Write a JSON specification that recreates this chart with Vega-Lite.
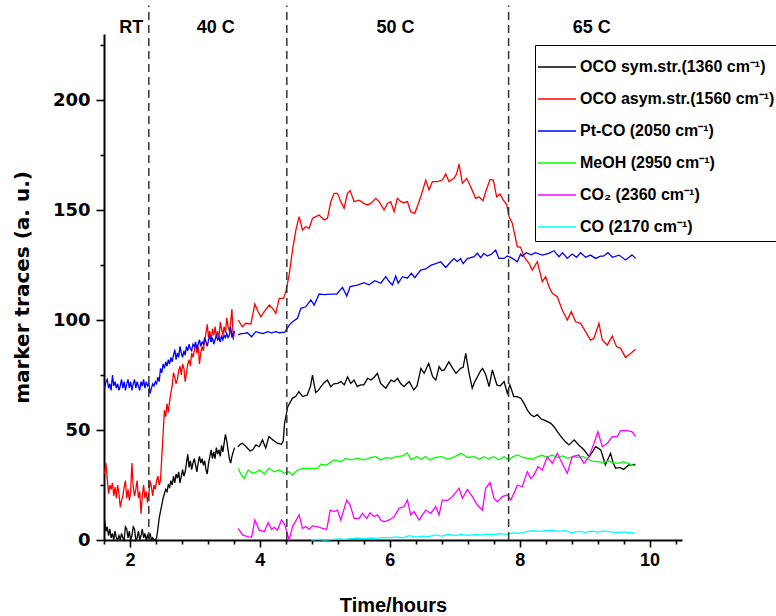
{
"$schema": "https://vega.github.io/schema/vega-lite/v6.json",
"width": 578, "height": 506,
"autosize": {"type": "none"},
"padding": {"left": 104, "top": 34, "right": 94, "bottom": 76},
"background": "white",
"config": {"view": {"stroke": null}, "axis": {"grid": false}},
"datasets": {
"bounds": [{"x": 2.29}, {"x": 4.415}, {"x": 7.83}],
"labels": [{"t": "RT", "x": 2.02}, {"t": "40 C", "x": 3.32}, {"t": "50 C", "x": 6.09}, {"t": "65 C", "x": 9.11}],
"traces": [
{"s":"a","g":1,"x":1.61,"y":9},{"s":"a","g":1,"x":1.63,"y":4},{"s":"a","g":1,"x":1.65,"y":6},{"s":"a","g":1,"x":1.67,"y":2},{"s":"a","g":1,"x":1.69,"y":5},{"s":"a","g":1,"x":1.71,"y":1},{"s":"a","g":1,"x":1.73,"y":3},{"s":"a","g":1,"x":1.75,"y":0},{"s":"a","g":1,"x":1.77,"y":4},{"s":"a","g":1,"x":1.79,"y":1},{"s":"a","g":1,"x":1.81,"y":0},{"s":"a","g":1,"x":1.83,"y":2},{"s":"a","g":1,"x":1.85,"y":0},{"s":"a","g":1,"x":1.87,"y":3},{"s":"a","g":1,"x":1.89,"y":1},{"s":"a","g":1,"x":1.91,"y":0},{"s":"a","g":1,"x":1.93,"y":6},{"s":"a","g":1,"x":1.95,"y":5},{"s":"a","g":1,"x":1.97,"y":1},{"s":"a","g":1,"x":1.99,"y":4},{"s":"a","g":1,"x":2.01,"y":0},{"s":"a","g":1,"x":2.03,"y":2},{"s":"a","g":1,"x":2.05,"y":6},{"s":"a","g":1,"x":2.07,"y":5},{"s":"a","g":1,"x":2.09,"y":0},{"s":"a","g":1,"x":2.11,"y":1},{"s":"a","g":1,"x":2.13,"y":4},{"s":"a","g":1,"x":2.15,"y":0},{"s":"a","g":1,"x":2.17,"y":2},{"s":"a","g":1,"x":2.19,"y":5},{"s":"a","g":1,"x":2.21,"y":1},{"s":"a","g":1,"x":2.23,"y":3},{"s":"a","g":1,"x":2.25,"y":0},{"s":"a","g":1,"x":2.27,"y":2},{"s":"a","g":1,"x":2.29,"y":0},{"s":"a","g":1,"x":2.31,"y":3},{"s":"a","g":1,"x":2.33,"y":0},{"s":"a","g":1,"x":2.35,"y":1},{"s":"a","g":1,"x":2.37,"y":0},{"s":"a","g":1,"x":2.39,"y":0},{"s":"a","g":1,"x":2.41,"y":1},{"s":"a","g":1,"x":2.43,"y":5},{"s":"a","g":1,"x":2.45,"y":10},{"s":"a","g":1,"x":2.47,"y":13},{"s":"a","g":1,"x":2.49,"y":16},{"s":"a","g":1,"x":2.51,"y":19},{"s":"a","g":1,"x":2.53,"y":21},{"s":"a","g":1,"x":2.55,"y":23},{"s":"a","g":1,"x":2.57,"y":22},{"s":"a","g":1,"x":2.59,"y":25},{"s":"a","g":1,"x":2.61,"y":24},{"s":"a","g":1,"x":2.63,"y":27},{"s":"a","g":1,"x":2.65,"y":25},{"s":"a","g":1,"x":2.67,"y":29},{"s":"a","g":1,"x":2.69,"y":26},{"s":"a","g":1,"x":2.71,"y":30},{"s":"a","g":1,"x":2.73,"y":28},{"s":"a","g":1,"x":2.75,"y":31},{"s":"a","g":1,"x":2.77,"y":26},{"s":"a","g":1,"x":2.79,"y":29},{"s":"a","g":1,"x":2.81,"y":32},{"s":"a","g":1,"x":2.83,"y":29},{"s":"a","g":1,"x":2.85,"y":31},{"s":"a","g":1,"x":2.87,"y":35},{"s":"a","g":1,"x":2.89,"y":39},{"s":"a","g":1,"x":2.91,"y":33},{"s":"a","g":1,"x":2.93,"y":36},{"s":"a","g":1,"x":2.95,"y":32},{"s":"a","g":1,"x":2.97,"y":35},{"s":"a","g":1,"x":2.99,"y":37},{"s":"a","g":1,"x":3.01,"y":34},{"s":"a","g":1,"x":3.03,"y":31},{"s":"a","g":1,"x":3.05,"y":35},{"s":"a","g":1,"x":3.07,"y":38},{"s":"a","g":1,"x":3.09,"y":35},{"s":"a","g":1,"x":3.11,"y":37},{"s":"a","g":1,"x":3.13,"y":34},{"s":"a","g":1,"x":3.15,"y":36},{"s":"a","g":1,"x":3.17,"y":32},{"s":"a","g":1,"x":3.19,"y":30},{"s":"a","g":1,"x":3.21,"y":35},{"s":"a","g":1,"x":3.23,"y":38},{"s":"a","g":1,"x":3.25,"y":41},{"s":"a","g":1,"x":3.27,"y":37},{"s":"a","g":1,"x":3.29,"y":40},{"s":"a","g":1,"x":3.31,"y":37},{"s":"a","g":1,"x":3.33,"y":42},{"s":"a","g":1,"x":3.35,"y":39},{"s":"a","g":1,"x":3.37,"y":41},{"s":"a","g":1,"x":3.39,"y":38},{"s":"a","g":1,"x":3.41,"y":43},{"s":"a","g":1,"x":3.43,"y":40},{"s":"a","g":1,"x":3.45,"y":44},{"s":"a","g":1,"x":3.47,"y":48},{"s":"a","g":1,"x":3.49,"y":45},{"s":"a","g":1,"x":3.51,"y":41},{"s":"a","g":1,"x":3.53,"y":37},{"s":"a","g":1,"x":3.55,"y":35},{"s":"a","g":1,"x":3.57,"y":38},{"s":"a","g":1,"x":3.59,"y":40},{"s":"a","g":1,"x":3.61,"y":42},
{"s":"a","g":2,"x":3.66,"y":42.4},{"s":"a","g":2,"x":3.7,"y":43.5},{"s":"a","g":2,"x":3.73,"y":44},{"s":"a","g":2,"x":3.77,"y":43},{"s":"a","g":2,"x":3.81,"y":41.7},{"s":"a","g":2,"x":3.85,"y":40.5},{"s":"a","g":2,"x":3.89,"y":41},{"s":"a","g":2,"x":3.94,"y":43.2},{"s":"a","g":2,"x":3.99,"y":42.4},{"s":"a","g":2,"x":4.04,"y":45.5},{"s":"a","g":2,"x":4.09,"y":41.8},{"s":"a","g":2,"x":4.14,"y":47},{"s":"a","g":2,"x":4.2,"y":45.5},{"s":"a","g":2,"x":4.27,"y":44},{"s":"a","g":2,"x":4.33,"y":43.5},{"s":"a","g":2,"x":4.36,"y":45},{"s":"a","g":2,"x":4.38,"y":53},{"s":"a","g":2,"x":4.43,"y":60.6},{"s":"a","g":2,"x":4.5,"y":64.4},{"s":"a","g":2,"x":4.55,"y":65.2},{"s":"a","g":2,"x":4.6,"y":67.4},{"s":"a","g":2,"x":4.66,"y":65.2},{"s":"a","g":2,"x":4.73,"y":65.9},{"s":"a","g":2,"x":4.78,"y":70},{"s":"a","g":2,"x":4.81,"y":75},{"s":"a","g":2,"x":4.86,"y":67},{"s":"a","g":2,"x":4.9,"y":68},{"s":"a","g":2,"x":4.94,"y":69.7},{"s":"a","g":2,"x":4.99,"y":71.5},{"s":"a","g":2,"x":5.04,"y":72.7},{"s":"a","g":2,"x":5.09,"y":69.7},{"s":"a","g":2,"x":5.14,"y":71},{"s":"a","g":2,"x":5.2,"y":71.2},{"s":"a","g":2,"x":5.25,"y":72},{"s":"a","g":2,"x":5.3,"y":70.5},{"s":"a","g":2,"x":5.35,"y":74.2},{"s":"a","g":2,"x":5.4,"y":71.2},{"s":"a","g":2,"x":5.45,"y":72.7},{"s":"a","g":2,"x":5.5,"y":69.7},{"s":"a","g":2,"x":5.55,"y":70.5},{"s":"a","g":2,"x":5.6,"y":70.5},{"s":"a","g":2,"x":5.66,"y":73.5},{"s":"a","g":2,"x":5.71,"y":72.7},{"s":"a","g":2,"x":5.76,"y":74},{"s":"a","g":2,"x":5.81,"y":75.8},{"s":"a","g":2,"x":5.86,"y":71.2},{"s":"a","g":2,"x":5.9,"y":70},{"s":"a","g":2,"x":5.94,"y":69},{"s":"a","g":2,"x":5.98,"y":71},{"s":"a","g":2,"x":6.02,"y":72.7},{"s":"a","g":2,"x":6.07,"y":72},{"s":"a","g":2,"x":6.12,"y":73.5},{"s":"a","g":2,"x":6.17,"y":71},{"s":"a","g":2,"x":6.22,"y":69.7},{"s":"a","g":2,"x":6.26,"y":71},{"s":"a","g":2,"x":6.3,"y":72},{"s":"a","g":2,"x":6.37,"y":68.2},{"s":"a","g":2,"x":6.42,"y":70},{"s":"a","g":2,"x":6.48,"y":78},{"s":"a","g":2,"x":6.53,"y":75.8},{"s":"a","g":2,"x":6.6,"y":80.3},{"s":"a","g":2,"x":6.66,"y":74.2},{"s":"a","g":2,"x":6.71,"y":72.7},{"s":"a","g":2,"x":6.76,"y":78.8},{"s":"a","g":2,"x":6.8,"y":77},{"s":"a","g":2,"x":6.84,"y":77.3},{"s":"a","g":2,"x":6.91,"y":81},{"s":"a","g":2,"x":6.97,"y":78},{"s":"a","g":2,"x":7.02,"y":75.8},{"s":"a","g":2,"x":7.06,"y":77},{"s":"a","g":2,"x":7.09,"y":78},{"s":"a","g":2,"x":7.13,"y":78.5},{"s":"a","g":2,"x":7.17,"y":84.8},{"s":"a","g":2,"x":7.22,"y":76},{"s":"a","g":2,"x":7.27,"y":69},{"s":"a","g":2,"x":7.31,"y":72},{"s":"a","g":2,"x":7.35,"y":74.2},{"s":"a","g":2,"x":7.4,"y":77},{"s":"a","g":2,"x":7.43,"y":78},{"s":"a","g":2,"x":7.48,"y":75},{"s":"a","g":2,"x":7.53,"y":69.7},{"s":"a","g":2,"x":7.58,"y":77.3},{"s":"a","g":2,"x":7.65,"y":70.5},{"s":"a","g":2,"x":7.7,"y":70},{"s":"a","g":2,"x":7.76,"y":72},{"s":"a","g":2,"x":7.81,"y":66.7},{"s":"a","g":2,"x":7.85,"y":70.5},{"s":"a","g":2,"x":7.91,"y":65.2},{"s":"a","g":2,"x":7.96,"y":65.2},{"s":"a","g":2,"x":8.02,"y":64.4},{"s":"a","g":2,"x":8.07,"y":62},{"s":"a","g":2,"x":8.12,"y":59},{"s":"a","g":2,"x":8.17,"y":57},{"s":"a","g":2,"x":8.22,"y":56},{"s":"a","g":2,"x":8.27,"y":57},{"s":"a","g":2,"x":8.33,"y":55},{"s":"a","g":2,"x":8.38,"y":54.5},{"s":"a","g":2,"x":8.43,"y":53.8},{"s":"a","g":2,"x":8.48,"y":53},{"s":"a","g":2,"x":8.53,"y":51.5},{"s":"a","g":2,"x":8.6,"y":48.5},{"s":"a","g":2,"x":8.66,"y":46.2},{"s":"a","g":2,"x":8.71,"y":44.5},{"s":"a","g":2,"x":8.76,"y":43.2},{"s":"a","g":2,"x":8.84,"y":45.5},{"s":"a","g":2,"x":8.91,"y":43.2},{"s":"a","g":2,"x":8.99,"y":41},{"s":"a","g":2,"x":9.07,"y":37.9},{"s":"a","g":2,"x":9.12,"y":40},{"s":"a","g":2,"x":9.17,"y":42.4},{"s":"a","g":2,"x":9.25,"y":40.9},{"s":"a","g":2,"x":9.32,"y":34.1},{"s":"a","g":2,"x":9.4,"y":39.4},{"s":"a","g":2,"x":9.44,"y":35},{"s":"a","g":2,"x":9.48,"y":32.6},{"s":"a","g":2,"x":9.54,"y":33},{"s":"a","g":2,"x":9.6,"y":32.1},{"s":"a","g":2,"x":9.68,"y":34.1},{"s":"a","g":2,"x":9.78,"y":34.4},
{"s":"b","g":1,"x":1.61,"y":30},{"s":"b","g":1,"x":1.63,"y":35},{"s":"b","g":1,"x":1.65,"y":28},{"s":"b","g":1,"x":1.67,"y":21},{"s":"b","g":1,"x":1.69,"y":25},{"s":"b","g":1,"x":1.71,"y":23},{"s":"b","g":1,"x":1.73,"y":26},{"s":"b","g":1,"x":1.75,"y":20},{"s":"b","g":1,"x":1.77,"y":24},{"s":"b","g":1,"x":1.79,"y":19},{"s":"b","g":1,"x":1.81,"y":25},{"s":"b","g":1,"x":1.83,"y":21},{"s":"b","g":1,"x":1.85,"y":15},{"s":"b","g":1,"x":1.87,"y":18},{"s":"b","g":1,"x":1.89,"y":20},{"s":"b","g":1,"x":1.91,"y":24},{"s":"b","g":1,"x":1.93,"y":27},{"s":"b","g":1,"x":1.95,"y":19},{"s":"b","g":1,"x":1.97,"y":23},{"s":"b","g":1,"x":1.99,"y":18},{"s":"b","g":1,"x":2.01,"y":22},{"s":"b","g":1,"x":2.03,"y":35},{"s":"b","g":1,"x":2.05,"y":24},{"s":"b","g":1,"x":2.07,"y":20},{"s":"b","g":1,"x":2.09,"y":23},{"s":"b","g":1,"x":2.11,"y":27},{"s":"b","g":1,"x":2.13,"y":19},{"s":"b","g":1,"x":2.15,"y":22},{"s":"b","g":1,"x":2.17,"y":12},{"s":"b","g":1,"x":2.19,"y":20},{"s":"b","g":1,"x":2.21,"y":25},{"s":"b","g":1,"x":2.23,"y":19},{"s":"b","g":1,"x":2.25,"y":22},{"s":"b","g":1,"x":2.27,"y":17},{"s":"b","g":1,"x":2.29,"y":21},{"s":"b","g":1,"x":2.31,"y":27},{"s":"b","g":1,"x":2.33,"y":24},{"s":"b","g":1,"x":2.35,"y":20},{"s":"b","g":1,"x":2.37,"y":25},{"s":"b","g":1,"x":2.39,"y":23},{"s":"b","g":1,"x":2.41,"y":27},{"s":"b","g":1,"x":2.43,"y":29},{"s":"b","g":1,"x":2.45,"y":25},{"s":"b","g":1,"x":2.47,"y":27},{"s":"b","g":1,"x":2.49,"y":38},{"s":"b","g":1,"x":2.51,"y":48},{"s":"b","g":1,"x":2.53,"y":59},{"s":"b","g":1,"x":2.55,"y":56},{"s":"b","g":1,"x":2.57,"y":62},{"s":"b","g":1,"x":2.59,"y":58},{"s":"b","g":1,"x":2.61,"y":63},{"s":"b","g":1,"x":2.63,"y":67},{"s":"b","g":1,"x":2.65,"y":70},{"s":"b","g":1,"x":2.67,"y":76},{"s":"b","g":1,"x":2.69,"y":74},{"s":"b","g":1,"x":2.71,"y":71},{"s":"b","g":1,"x":2.73,"y":73},{"s":"b","g":1,"x":2.75,"y":77},{"s":"b","g":1,"x":2.77,"y":79},{"s":"b","g":1,"x":2.79,"y":75},{"s":"b","g":1,"x":2.81,"y":80},{"s":"b","g":1,"x":2.83,"y":78},{"s":"b","g":1,"x":2.85,"y":72},{"s":"b","g":1,"x":2.87,"y":76},{"s":"b","g":1,"x":2.89,"y":80},{"s":"b","g":1,"x":2.91,"y":82},{"s":"b","g":1,"x":2.93,"y":79},{"s":"b","g":1,"x":2.95,"y":85},{"s":"b","g":1,"x":2.97,"y":83},{"s":"b","g":1,"x":2.99,"y":86},{"s":"b","g":1,"x":3.01,"y":89},{"s":"b","g":1,"x":3.03,"y":85},{"s":"b","g":1,"x":3.05,"y":88},{"s":"b","g":1,"x":3.07,"y":80},{"s":"b","g":1,"x":3.09,"y":85},{"s":"b","g":1,"x":3.11,"y":88},{"s":"b","g":1,"x":3.13,"y":86},{"s":"b","g":1,"x":3.15,"y":91},{"s":"b","g":1,"x":3.17,"y":94},{"s":"b","g":1,"x":3.19,"y":98},{"s":"b","g":1,"x":3.21,"y":92},{"s":"b","g":1,"x":3.23,"y":95},{"s":"b","g":1,"x":3.25,"y":90},{"s":"b","g":1,"x":3.27,"y":96},{"s":"b","g":1,"x":3.29,"y":93},{"s":"b","g":1,"x":3.31,"y":97},{"s":"b","g":1,"x":3.33,"y":92},{"s":"b","g":1,"x":3.35,"y":95},{"s":"b","g":1,"x":3.37,"y":91},{"s":"b","g":1,"x":3.39,"y":99},{"s":"b","g":1,"x":3.41,"y":96},{"s":"b","g":1,"x":3.43,"y":93},{"s":"b","g":1,"x":3.45,"y":97},{"s":"b","g":1,"x":3.47,"y":94},{"s":"b","g":1,"x":3.49,"y":101},{"s":"b","g":1,"x":3.51,"y":97},{"s":"b","g":1,"x":3.53,"y":95},{"s":"b","g":1,"x":3.55,"y":99},{"s":"b","g":1,"x":3.57,"y":105},{"s":"b","g":1,"x":3.59,"y":91},{"s":"b","g":1,"x":3.61,"y":95},
{"s":"b","g":2,"x":3.667,"y":100},{"s":"b","g":2,"x":3.73,"y":96.9},{"s":"b","g":2,"x":3.785,"y":98.5},{"s":"b","g":2,"x":3.862,"y":98.2},{"s":"b","g":2,"x":3.923,"y":107.3},{"s":"b","g":2,"x":3.97,"y":104},{"s":"b","g":2,"x":4.015,"y":101.5},{"s":"b","g":2,"x":4.067,"y":103.8},{"s":"b","g":2,"x":4.144,"y":106.8},{"s":"b","g":2,"x":4.195,"y":105.3},{"s":"b","g":2,"x":4.246,"y":103},{"s":"b","g":2,"x":4.298,"y":109.8},{"s":"b","g":2,"x":4.364,"y":109.8},{"s":"b","g":2,"x":4.4,"y":112.9},{"s":"b","g":2,"x":4.451,"y":120.5},{"s":"b","g":2,"x":4.503,"y":131.8},{"s":"b","g":2,"x":4.554,"y":140.9},{"s":"b","g":2,"x":4.605,"y":147},{"s":"b","g":2,"x":4.656,"y":140.9},{"s":"b","g":2,"x":4.708,"y":142.4},{"s":"b","g":2,"x":4.759,"y":141.7},{"s":"b","g":2,"x":4.81,"y":146.2},{"s":"b","g":2,"x":4.86,"y":147},{"s":"b","g":2,"x":4.913,"y":147.7},{"s":"b","g":2,"x":4.99,"y":145.5},{"s":"b","g":2,"x":5.041,"y":146.2},{"s":"b","g":2,"x":5.092,"y":153.8},{"s":"b","g":2,"x":5.144,"y":157.6},{"s":"b","g":2,"x":5.195,"y":157.6},{"s":"b","g":2,"x":5.246,"y":153.8},{"s":"b","g":2,"x":5.297,"y":150.8},{"s":"b","g":2,"x":5.349,"y":157.6},{"s":"b","g":2,"x":5.39,"y":158.8},{"s":"b","g":2,"x":5.451,"y":153.8},{"s":"b","g":2,"x":5.528,"y":154.5},{"s":"b","g":2,"x":5.6,"y":153},{"s":"b","g":2,"x":5.656,"y":152.3},{"s":"b","g":2,"x":5.71,"y":153},{"s":"b","g":2,"x":5.785,"y":155.3},{"s":"b","g":2,"x":5.836,"y":153.8},{"s":"b","g":2,"x":5.913,"y":150},{"s":"b","g":2,"x":5.964,"y":153},{"s":"b","g":2,"x":6.015,"y":153.8},{"s":"b","g":2,"x":6.067,"y":149.2},{"s":"b","g":2,"x":6.118,"y":155.3},{"s":"b","g":2,"x":6.17,"y":153.8},{"s":"b","g":2,"x":6.221,"y":153.3},{"s":"b","g":2,"x":6.272,"y":153.8},{"s":"b","g":2,"x":6.323,"y":149.2},{"s":"b","g":2,"x":6.385,"y":148.5},{"s":"b","g":2,"x":6.43,"y":152},{"s":"b","g":2,"x":6.477,"y":156},{"s":"b","g":2,"x":6.554,"y":163.6},{"s":"b","g":2,"x":6.605,"y":159.1},{"s":"b","g":2,"x":6.656,"y":162.9},{"s":"b","g":2,"x":6.733,"y":162.9},{"s":"b","g":2,"x":6.81,"y":163.6},{"s":"b","g":2,"x":6.862,"y":166.4},{"s":"b","g":2,"x":6.913,"y":162.9},{"s":"b","g":2,"x":6.99,"y":164.4},{"s":"b","g":2,"x":7.03,"y":166.4},{"s":"b","g":2,"x":7.067,"y":170.9},{"s":"b","g":2,"x":7.118,"y":162.1},{"s":"b","g":2,"x":7.185,"y":164.4},{"s":"b","g":2,"x":7.246,"y":160.6},{"s":"b","g":2,"x":7.323,"y":155.3},{"s":"b","g":2,"x":7.374,"y":156},{"s":"b","g":2,"x":7.436,"y":154.2},{"s":"b","g":2,"x":7.477,"y":158.3},{"s":"b","g":2,"x":7.544,"y":163.9},{"s":"b","g":2,"x":7.595,"y":163.6},{"s":"b","g":2,"x":7.646,"y":156},{"s":"b","g":2,"x":7.697,"y":157.3},{"s":"b","g":2,"x":7.749,"y":154.5},{"s":"b","g":2,"x":7.8,"y":152.5},{"s":"b","g":2,"x":7.836,"y":147},{"s":"b","g":2,"x":7.887,"y":144},{"s":"b","g":2,"x":7.93,"y":138},{"s":"b","g":2,"x":7.964,"y":133.3},{"s":"b","g":2,"x":8.015,"y":133},{"s":"b","g":2,"x":8.067,"y":128.8},{"s":"b","g":2,"x":8.144,"y":125.8},{"s":"b","g":2,"x":8.195,"y":122.7},{"s":"b","g":2,"x":8.272,"y":126.5},{"s":"b","g":2,"x":8.349,"y":117.4},{"s":"b","g":2,"x":8.4,"y":119.7},{"s":"b","g":2,"x":8.451,"y":115.2},{"s":"b","g":2,"x":8.503,"y":112.1},{"s":"b","g":2,"x":8.58,"y":110.6},{"s":"b","g":2,"x":8.656,"y":104.5},{"s":"b","g":2,"x":8.733,"y":100},{"s":"b","g":2,"x":8.795,"y":103.8},{"s":"b","g":2,"x":8.862,"y":99.2},{"s":"b","g":2,"x":8.939,"y":98.5},{"s":"b","g":2,"x":9.015,"y":94.7},{"s":"b","g":2,"x":9.092,"y":90.9},{"s":"b","g":2,"x":9.144,"y":91.7},{"s":"b","g":2,"x":9.221,"y":98.5},{"s":"b","g":2,"x":9.272,"y":90.9},{"s":"b","g":2,"x":9.349,"y":88.6},{"s":"b","g":2,"x":9.426,"y":92.7},{"s":"b","g":2,"x":9.492,"y":87.9},{"s":"b","g":2,"x":9.554,"y":87.1},{"s":"b","g":2,"x":9.631,"y":83},{"s":"b","g":2,"x":9.708,"y":84.8},{"s":"b","g":2,"x":9.785,"y":86.7},
{"s":"c","g":1,"x":1.61,"y":69},{"s":"c","g":1,"x":1.63,"y":72},{"s":"c","g":1,"x":1.65,"y":73},{"s":"c","g":1,"x":1.67,"y":69},{"s":"c","g":1,"x":1.69,"y":71},{"s":"c","g":1,"x":1.71,"y":68},{"s":"c","g":1,"x":1.73,"y":75},{"s":"c","g":1,"x":1.75,"y":70},{"s":"c","g":1,"x":1.77,"y":72},{"s":"c","g":1,"x":1.79,"y":69},{"s":"c","g":1,"x":1.81,"y":71},{"s":"c","g":1,"x":1.83,"y":68},{"s":"c","g":1,"x":1.85,"y":70},{"s":"c","g":1,"x":1.87,"y":73},{"s":"c","g":1,"x":1.89,"y":69},{"s":"c","g":1,"x":1.91,"y":72},{"s":"c","g":1,"x":1.93,"y":68},{"s":"c","g":1,"x":1.95,"y":71},{"s":"c","g":1,"x":1.97,"y":73},{"s":"c","g":1,"x":1.99,"y":69},{"s":"c","g":1,"x":2.01,"y":72},{"s":"c","g":1,"x":2.03,"y":68},{"s":"c","g":1,"x":2.05,"y":71},{"s":"c","g":1,"x":2.07,"y":73},{"s":"c","g":1,"x":2.09,"y":69},{"s":"c","g":1,"x":2.11,"y":72},{"s":"c","g":1,"x":2.13,"y":70},{"s":"c","g":1,"x":2.15,"y":68},{"s":"c","g":1,"x":2.17,"y":72},{"s":"c","g":1,"x":2.19,"y":70},{"s":"c","g":1,"x":2.21,"y":73},{"s":"c","g":1,"x":2.23,"y":69},{"s":"c","g":1,"x":2.25,"y":72},{"s":"c","g":1,"x":2.27,"y":70},{"s":"c","g":1,"x":2.29,"y":71},{"s":"c","g":1,"x":2.31,"y":66.5},{"s":"c","g":1,"x":2.33,"y":69},{"s":"c","g":1,"x":2.35,"y":71},{"s":"c","g":1,"x":2.37,"y":70},{"s":"c","g":1,"x":2.39,"y":72},{"s":"c","g":1,"x":2.41,"y":71},{"s":"c","g":1,"x":2.43,"y":74},{"s":"c","g":1,"x":2.45,"y":72},{"s":"c","g":1,"x":2.47,"y":78},{"s":"c","g":1,"x":2.49,"y":76},{"s":"c","g":1,"x":2.51,"y":80},{"s":"c","g":1,"x":2.53,"y":78},{"s":"c","g":1,"x":2.55,"y":81},{"s":"c","g":1,"x":2.57,"y":79},{"s":"c","g":1,"x":2.59,"y":82},{"s":"c","g":1,"x":2.61,"y":80},{"s":"c","g":1,"x":2.63,"y":83},{"s":"c","g":1,"x":2.65,"y":81},{"s":"c","g":1,"x":2.67,"y":84},{"s":"c","g":1,"x":2.69,"y":86.5},{"s":"c","g":1,"x":2.71,"y":82},{"s":"c","g":1,"x":2.73,"y":85},{"s":"c","g":1,"x":2.75,"y":83},{"s":"c","g":1,"x":2.77,"y":88},{"s":"c","g":1,"x":2.79,"y":85},{"s":"c","g":1,"x":2.81,"y":83},{"s":"c","g":1,"x":2.83,"y":86},{"s":"c","g":1,"x":2.85,"y":84},{"s":"c","g":1,"x":2.87,"y":88},{"s":"c","g":1,"x":2.89,"y":86},{"s":"c","g":1,"x":2.91,"y":89},{"s":"c","g":1,"x":2.93,"y":87},{"s":"c","g":1,"x":2.95,"y":86},{"s":"c","g":1,"x":2.97,"y":89},{"s":"c","g":1,"x":2.99,"y":88},{"s":"c","g":1,"x":3.01,"y":90},{"s":"c","g":1,"x":3.03,"y":87},{"s":"c","g":1,"x":3.05,"y":89},{"s":"c","g":1,"x":3.07,"y":91},{"s":"c","g":1,"x":3.09,"y":88},{"s":"c","g":1,"x":3.11,"y":90},{"s":"c","g":1,"x":3.13,"y":89},{"s":"c","g":1,"x":3.15,"y":92},{"s":"c","g":1,"x":3.17,"y":90},{"s":"c","g":1,"x":3.19,"y":88},{"s":"c","g":1,"x":3.21,"y":91},{"s":"c","g":1,"x":3.23,"y":93},{"s":"c","g":1,"x":3.25,"y":90},{"s":"c","g":1,"x":3.27,"y":92},{"s":"c","g":1,"x":3.29,"y":89},{"s":"c","g":1,"x":3.31,"y":91},{"s":"c","g":1,"x":3.33,"y":93},{"s":"c","g":1,"x":3.35,"y":91},{"s":"c","g":1,"x":3.37,"y":92},{"s":"c","g":1,"x":3.39,"y":90},{"s":"c","g":1,"x":3.41,"y":93},{"s":"c","g":1,"x":3.43,"y":91},{"s":"c","g":1,"x":3.45,"y":93},{"s":"c","g":1,"x":3.47,"y":92},{"s":"c","g":1,"x":3.49,"y":94},{"s":"c","g":1,"x":3.51,"y":92},{"s":"c","g":1,"x":3.53,"y":93},{"s":"c","g":1,"x":3.55,"y":97},{"s":"c","g":1,"x":3.57,"y":92},{"s":"c","g":1,"x":3.59,"y":94},{"s":"c","g":1,"x":3.61,"y":95},
{"s":"c","g":2,"x":3.667,"y":93.2},{"s":"c","g":2,"x":3.71,"y":93.8},{"s":"c","g":2,"x":3.759,"y":93.9},{"s":"c","g":2,"x":3.81,"y":94.2},{"s":"c","g":2,"x":3.872,"y":92.4},{"s":"c","g":2,"x":3.938,"y":94.7},{"s":"c","g":2,"x":4.0,"y":94.2},{"s":"c","g":2,"x":4.05,"y":93.8},{"s":"c","g":2,"x":4.12,"y":94.7},{"s":"c","g":2,"x":4.18,"y":94.2},{"s":"c","g":2,"x":4.25,"y":94.7},{"s":"c","g":2,"x":4.3,"y":94.2},{"s":"c","g":2,"x":4.385,"y":94.5},{"s":"c","g":2,"x":4.451,"y":97.7},{"s":"c","g":2,"x":4.503,"y":99.2},{"s":"c","g":2,"x":4.579,"y":100.8},{"s":"c","g":2,"x":4.631,"y":105.3},{"s":"c","g":2,"x":4.708,"y":106},{"s":"c","g":2,"x":4.785,"y":109.1},{"s":"c","g":2,"x":4.836,"y":106.8},{"s":"c","g":2,"x":4.913,"y":111.8},{"s":"c","g":2,"x":4.99,"y":111.5},{"s":"c","g":2,"x":5.09,"y":111.8},{"s":"c","g":2,"x":5.185,"y":111.8},{"s":"c","g":2,"x":5.272,"y":114.8},{"s":"c","g":2,"x":5.338,"y":110.9},{"s":"c","g":2,"x":5.39,"y":115.2},{"s":"c","g":2,"x":5.503,"y":115.9},{"s":"c","g":2,"x":5.605,"y":117},{"s":"c","g":2,"x":5.68,"y":116},{"s":"c","g":2,"x":5.77,"y":117.9},{"s":"c","g":2,"x":5.862,"y":116.7},{"s":"c","g":2,"x":5.938,"y":119.7},{"s":"c","g":2,"x":5.99,"y":117.5},{"s":"c","g":2,"x":6.041,"y":115.9},{"s":"c","g":2,"x":6.092,"y":120},{"s":"c","g":2,"x":6.13,"y":116.7},{"s":"c","g":2,"x":6.195,"y":119.7},{"s":"c","g":2,"x":6.27,"y":119},{"s":"c","g":2,"x":6.333,"y":121.2},{"s":"c","g":2,"x":6.385,"y":119.2},{"s":"c","g":2,"x":6.477,"y":122.7},{"s":"c","g":2,"x":6.554,"y":123.2},{"s":"c","g":2,"x":6.631,"y":124.8},{"s":"c","g":2,"x":6.708,"y":125.6},{"s":"c","g":2,"x":6.785,"y":126.5},{"s":"c","g":2,"x":6.862,"y":123.9},{"s":"c","g":2,"x":6.94,"y":126.5},{"s":"c","g":2,"x":6.99,"y":127.9},{"s":"c","g":2,"x":7.04,"y":126.5},{"s":"c","g":2,"x":7.09,"y":127.9},{"s":"c","g":2,"x":7.13,"y":125.6},{"s":"c","g":2,"x":7.195,"y":127.9},{"s":"c","g":2,"x":7.297,"y":128.8},{"s":"c","g":2,"x":7.35,"y":130.3},{"s":"c","g":2,"x":7.4,"y":128.3},{"s":"c","g":2,"x":7.45,"y":130.3},{"s":"c","g":2,"x":7.5,"y":129.1},{"s":"c","g":2,"x":7.56,"y":129.8},{"s":"c","g":2,"x":7.631,"y":131.8},{"s":"c","g":2,"x":7.68,"y":128},{"s":"c","g":2,"x":7.76,"y":128},{"s":"c","g":2,"x":7.81,"y":129.1},{"s":"c","g":2,"x":7.89,"y":128},{"s":"c","g":2,"x":7.964,"y":126.5},{"s":"c","g":2,"x":8.015,"y":130},{"s":"c","g":2,"x":8.04,"y":129},{"s":"c","g":2,"x":8.1,"y":130.6},{"s":"c","g":2,"x":8.18,"y":129.6},{"s":"c","g":2,"x":8.24,"y":130.6},{"s":"c","g":2,"x":8.349,"y":129.5},{"s":"c","g":2,"x":8.45,"y":130.3},{"s":"c","g":2,"x":8.528,"y":131.5},{"s":"c","g":2,"x":8.606,"y":128.8},{"s":"c","g":2,"x":8.66,"y":130.6},{"s":"c","g":2,"x":8.733,"y":128},{"s":"c","g":2,"x":8.81,"y":130},{"s":"c","g":2,"x":8.876,"y":128.5},{"s":"c","g":2,"x":8.94,"y":130.6},{"s":"c","g":2,"x":9.015,"y":128.5},{"s":"c","g":2,"x":9.09,"y":129.5},{"s":"c","g":2,"x":9.17,"y":128},{"s":"c","g":2,"x":9.247,"y":129},{"s":"c","g":2,"x":9.29,"y":129},{"s":"c","g":2,"x":9.36,"y":130.6},{"s":"c","g":2,"x":9.43,"y":128.5},{"s":"c","g":2,"x":9.53,"y":129.5},{"s":"c","g":2,"x":9.631,"y":127.3},{"s":"c","g":2,"x":9.73,"y":129.6},{"s":"c","g":2,"x":9.785,"y":128},
{"s":"d","g":2,"x":3.667,"y":32.6},{"s":"d","g":2,"x":3.71,"y":29.8},{"s":"d","g":2,"x":3.759,"y":28},{"s":"d","g":2,"x":3.82,"y":31.8},{"s":"d","g":2,"x":3.89,"y":30.3},{"s":"d","g":2,"x":3.95,"y":31},{"s":"d","g":2,"x":4.0,"y":31.8},{"s":"d","g":2,"x":4.07,"y":30},{"s":"d","g":2,"x":4.14,"y":32.6},{"s":"d","g":2,"x":4.22,"y":31},{"s":"d","g":2,"x":4.3,"y":31.8},{"s":"d","g":2,"x":4.374,"y":30.3},{"s":"d","g":2,"x":4.45,"y":31},{"s":"d","g":2,"x":4.5,"y":29.5},{"s":"d","g":2,"x":4.58,"y":31.8},{"s":"d","g":2,"x":4.66,"y":32.6},{"s":"d","g":2,"x":4.78,"y":32.6},{"s":"d","g":2,"x":4.89,"y":32.6},{"s":"d","g":2,"x":4.94,"y":34.5},{"s":"d","g":2,"x":5.02,"y":34},{"s":"d","g":2,"x":5.144,"y":36.4},{"s":"d","g":2,"x":5.25,"y":35.6},{"s":"d","g":2,"x":5.32,"y":37.1},{"s":"d","g":2,"x":5.4,"y":36.4},{"s":"d","g":2,"x":5.5,"y":37.1},{"s":"d","g":2,"x":5.61,"y":36.4},{"s":"d","g":2,"x":5.71,"y":37.5},{"s":"d","g":2,"x":5.785,"y":37.9},{"s":"d","g":2,"x":5.86,"y":36.4},{"s":"d","g":2,"x":5.95,"y":37.5},{"s":"d","g":2,"x":6.02,"y":37.1},{"s":"d","g":2,"x":6.1,"y":37.9},{"s":"d","g":2,"x":6.2,"y":38.2},{"s":"d","g":2,"x":6.27,"y":39.6},{"s":"d","g":2,"x":6.33,"y":36.5},{"s":"d","g":2,"x":6.42,"y":37.9},{"s":"d","g":2,"x":6.48,"y":36.7},{"s":"d","g":2,"x":6.55,"y":37.9},{"s":"d","g":2,"x":6.62,"y":36.4},{"s":"d","g":2,"x":6.7,"y":37.5},{"s":"d","g":2,"x":6.8,"y":37.9},{"s":"d","g":2,"x":6.9,"y":36.7},{"s":"d","g":2,"x":7.0,"y":37.9},{"s":"d","g":2,"x":7.1,"y":39.4},{"s":"d","g":2,"x":7.2,"y":37.5},{"s":"d","g":2,"x":7.3,"y":37.9},{"s":"d","g":2,"x":7.38,"y":36.7},{"s":"d","g":2,"x":7.45,"y":37.9},{"s":"d","g":2,"x":7.52,"y":36.9},{"s":"d","g":2,"x":7.6,"y":37.9},{"s":"d","g":2,"x":7.68,"y":36.5},{"s":"d","g":2,"x":7.76,"y":37.9},{"s":"d","g":2,"x":7.83,"y":36.4},{"s":"d","g":2,"x":7.9,"y":37.9},{"s":"d","g":2,"x":7.97,"y":38.7},{"s":"d","g":2,"x":8.05,"y":37.5},{"s":"d","g":2,"x":8.12,"y":37.1},{"s":"d","g":2,"x":8.2,"y":36.7},{"s":"d","g":2,"x":8.28,"y":37.9},{"s":"d","g":2,"x":8.35,"y":38.5},{"s":"d","g":2,"x":8.42,"y":37.5},{"s":"d","g":2,"x":8.5,"y":38.7},{"s":"d","g":2,"x":8.58,"y":37.5},{"s":"d","g":2,"x":8.66,"y":38.2},{"s":"d","g":2,"x":8.74,"y":37.1},{"s":"d","g":2,"x":8.82,"y":37.9},{"s":"d","g":2,"x":8.9,"y":37.5},{"s":"d","g":2,"x":8.98,"y":37.9},{"s":"d","g":2,"x":9.05,"y":36.7},{"s":"d","g":2,"x":9.12,"y":35.9},{"s":"d","g":2,"x":9.2,"y":35.6},{"s":"d","g":2,"x":9.28,"y":35.2},{"s":"d","g":2,"x":9.36,"y":35.9},{"s":"d","g":2,"x":9.44,"y":35.2},{"s":"d","g":2,"x":9.52,"y":34.8},{"s":"d","g":2,"x":9.6,"y":35.6},{"s":"d","g":2,"x":9.7,"y":34.5},{"s":"d","g":2,"x":9.785,"y":33.6},
{"s":"e","g":2,"x":3.667,"y":5.3},{"s":"e","g":2,"x":3.733,"y":2.3},{"s":"e","g":2,"x":3.81,"y":1.5},{"s":"e","g":2,"x":3.872,"y":1.2},{"s":"e","g":2,"x":3.923,"y":9.1},{"s":"e","g":2,"x":3.99,"y":4.5},{"s":"e","g":2,"x":4.067,"y":3.8},{"s":"e","g":2,"x":4.128,"y":7.9},{"s":"e","g":2,"x":4.18,"y":4.8},{"s":"e","g":2,"x":4.22,"y":5.8},{"s":"e","g":2,"x":4.272,"y":4.5},{"s":"e","g":2,"x":4.333,"y":9.1},{"s":"e","g":2,"x":4.385,"y":6.8},{"s":"e","g":2,"x":4.451,"y":0},{"s":"e","g":2,"x":4.503,"y":6.1},{"s":"e","g":2,"x":4.605,"y":11.4},{"s":"e","g":2,"x":4.656,"y":5.3},{"s":"e","g":2,"x":4.708,"y":6.1},{"s":"e","g":2,"x":4.759,"y":4.8},{"s":"e","g":2,"x":4.81,"y":6.4},{"s":"e","g":2,"x":4.887,"y":6.1},{"s":"e","g":2,"x":4.964,"y":5.3},{"s":"e","g":2,"x":5.03,"y":4.8},{"s":"e","g":2,"x":5.082,"y":13.6},{"s":"e","g":2,"x":5.144,"y":12.9},{"s":"e","g":2,"x":5.195,"y":13.6},{"s":"e","g":2,"x":5.246,"y":9.1},{"s":"e","g":2,"x":5.338,"y":18.2},{"s":"e","g":2,"x":5.39,"y":15.9},{"s":"e","g":2,"x":5.451,"y":9.8},{"s":"e","g":2,"x":5.528,"y":9.8},{"s":"e","g":2,"x":5.58,"y":12.1},{"s":"e","g":2,"x":5.646,"y":9.8},{"s":"e","g":2,"x":5.697,"y":12.4},{"s":"e","g":2,"x":5.759,"y":10.6},{"s":"e","g":2,"x":5.81,"y":11.4},{"s":"e","g":2,"x":5.862,"y":9.1},{"s":"e","g":2,"x":5.913,"y":8.3},{"s":"e","g":2,"x":5.99,"y":9.1},{"s":"e","g":2,"x":6.067,"y":10.6},{"s":"e","g":2,"x":6.144,"y":14.4},{"s":"e","g":2,"x":6.221,"y":15.2},{"s":"e","g":2,"x":6.272,"y":18.2},{"s":"e","g":2,"x":6.323,"y":11.4},{"s":"e","g":2,"x":6.374,"y":12.9},{"s":"e","g":2,"x":6.452,"y":9.1},{"s":"e","g":2,"x":6.554,"y":13.6},{"s":"e","g":2,"x":6.631,"y":12.1},{"s":"e","g":2,"x":6.708,"y":15.2},{"s":"e","g":2,"x":6.759,"y":11.4},{"s":"e","g":2,"x":6.81,"y":18.2},{"s":"e","g":2,"x":6.887,"y":17.9},{"s":"e","g":2,"x":6.964,"y":19.7},{"s":"e","g":2,"x":7.067,"y":23.5},{"s":"e","g":2,"x":7.118,"y":18.9},{"s":"e","g":2,"x":7.195,"y":23},{"s":"e","g":2,"x":7.272,"y":19.7},{"s":"e","g":2,"x":7.349,"y":15.9},{"s":"e","g":2,"x":7.426,"y":13.6},{"s":"e","g":2,"x":7.477,"y":23.5},{"s":"e","g":2,"x":7.544,"y":26.1},{"s":"e","g":2,"x":7.605,"y":18.9},{"s":"e","g":2,"x":7.657,"y":17.4},{"s":"e","g":2,"x":7.733,"y":19.7},{"s":"e","g":2,"x":7.81,"y":20.5},{"s":"e","g":2,"x":7.862,"y":18.2},{"s":"e","g":2,"x":7.913,"y":21.2},{"s":"e","g":2,"x":7.964,"y":25},{"s":"e","g":2,"x":8.04,"y":24.2},{"s":"e","g":2,"x":8.118,"y":31.1},{"s":"e","g":2,"x":8.17,"y":28},{"s":"e","g":2,"x":8.221,"y":29.5},{"s":"e","g":2,"x":8.282,"y":33.3},{"s":"e","g":2,"x":8.349,"y":31.8},{"s":"e","g":2,"x":8.426,"y":37.9},{"s":"e","g":2,"x":8.503,"y":34.8},{"s":"e","g":2,"x":8.58,"y":39.4},{"s":"e","g":2,"x":8.656,"y":34.8},{"s":"e","g":2,"x":8.733,"y":30.3},{"s":"e","g":2,"x":8.81,"y":37.9},{"s":"e","g":2,"x":8.913,"y":38.6},{"s":"e","g":2,"x":8.99,"y":34.8},{"s":"e","g":2,"x":9.067,"y":37.9},{"s":"e","g":2,"x":9.144,"y":43.9},{"s":"e","g":2,"x":9.205,"y":49.2},{"s":"e","g":2,"x":9.272,"y":42.4},{"s":"e","g":2,"x":9.349,"y":43.9},{"s":"e","g":2,"x":9.426,"y":47},{"s":"e","g":2,"x":9.503,"y":47},{"s":"e","g":2,"x":9.554,"y":49.7},{"s":"e","g":2,"x":9.656,"y":49.7},{"s":"e","g":2,"x":9.733,"y":49.2},{"s":"e","g":2,"x":9.785,"y":47},
{"s":"f","g":2,"x":4.79,"y":0},{"s":"f","g":2,"x":4.9,"y":0.3},{"s":"f","g":2,"x":5.0,"y":0},{"s":"f","g":2,"x":5.09,"y":0.2},{"s":"f","g":2,"x":5.2,"y":0.5},{"s":"f","g":2,"x":5.3,"y":0.3},{"s":"f","g":2,"x":5.4,"y":0.6},{"s":"f","g":2,"x":5.5,"y":0.9},{"s":"f","g":2,"x":5.6,"y":0.6},{"s":"f","g":2,"x":5.71,"y":0.9},{"s":"f","g":2,"x":5.8,"y":0.7},{"s":"f","g":2,"x":5.9,"y":1.2},{"s":"f","g":2,"x":6.0,"y":1.0},{"s":"f","g":2,"x":6.1,"y":1.4},{"s":"f","g":2,"x":6.2,"y":1.0},{"s":"f","g":2,"x":6.3,"y":2.0},{"s":"f","g":2,"x":6.4,"y":1.3},{"s":"f","g":2,"x":6.5,"y":1.8},{"s":"f","g":2,"x":6.6,"y":1.5},{"s":"f","g":2,"x":6.7,"y":2.3},{"s":"f","g":2,"x":6.8,"y":1.8},{"s":"f","g":2,"x":6.9,"y":2.6},{"s":"f","g":2,"x":7.0,"y":2.0},{"s":"f","g":2,"x":7.1,"y":2.5},{"s":"f","g":2,"x":7.2,"y":2.1},{"s":"f","g":2,"x":7.3,"y":2.5},{"s":"f","g":2,"x":7.4,"y":2.2},{"s":"f","g":2,"x":7.5,"y":2.7},{"s":"f","g":2,"x":7.6,"y":2.5},{"s":"f","g":2,"x":7.7,"y":2.9},{"s":"f","g":2,"x":7.8,"y":2.6},{"s":"f","g":2,"x":7.9,"y":3.2},{"s":"f","g":2,"x":8.0,"y":3.0},{"s":"f","g":2,"x":8.1,"y":3.8},{"s":"f","g":2,"x":8.2,"y":4.2},{"s":"f","g":2,"x":8.3,"y":3.9},{"s":"f","g":2,"x":8.4,"y":4.3},{"s":"f","g":2,"x":8.5,"y":4.5},{"s":"f","g":2,"x":8.6,"y":3.9},{"s":"f","g":2,"x":8.7,"y":4.3},{"s":"f","g":2,"x":8.8,"y":3.4},{"s":"f","g":2,"x":8.9,"y":3.9},{"s":"f","g":2,"x":9.0,"y":3.5},{"s":"f","g":2,"x":9.1,"y":4.0},{"s":"f","g":2,"x":9.2,"y":3.6},{"s":"f","g":2,"x":9.3,"y":4.1},{"s":"f","g":2,"x":9.4,"y":3.7},{"s":"f","g":2,"x":9.5,"y":3.4},{"s":"f","g":2,"x":9.6,"y":3.7},{"s":"f","g":2,"x":9.7,"y":3.3},{"s":"f","g":2,"x":9.78,"y":3.0}
]
},
"layer": [
{
"data": {"name": "traces"},
"mark": {"type": "line", "strokeWidth": 1.3},
"encoding": {
"x": {"field": "x", "type": "quantitative", "scale": {"domain": [1.6, 10.5], "nice": false, "zero": false},
"axis": {"orient": "bottom", "values": [2, 4, 6, 8, 10], "title": "Time/hours", "tickSize": 7, "tickWidth": 1.6, "tickColor": "black", "domainWidth": 2, "domainColor": "black", "labelFont": "Liberation Sans", "labelFontWeight": "bold", "labelFontSize": 18, "labelColor": "black", "labelPadding": 4, "labelFlush": false, "titleFont": "Liberation Sans", "titleFontWeight": "bold", "titleFontSize": 20, "titleColor": "black", "titleBaseline": "alphabetic", "titleY": 71}},
"y": {"field": "y", "type": "quantitative", "scale": {"domain": [0, 230], "nice": false},
"axis": {"orient": "left", "values": [0, 50, 100, 150, 200], "title": "marker traces (a. u.)", "tickSize": 8, "tickWidth": 1.6, "tickColor": "black", "domainWidth": 2, "domainColor": "black", "labelFont": "DejaVu Sans", "labelFontWeight": "bold", "labelFontSize": 18, "labelColor": "black", "labelPadding": 6, "labelFlush": false, "titleFont": "DejaVu Sans", "titleFontWeight": "bold", "titleFontSize": 20, "titleColor": "black", "titleBaseline": "middle", "titleX": -82}},
"color": {"field": "s", "type": "nominal",
"scale": {"domain": ["a", "b", "c", "d", "e", "f"], "range": ["#000000", "#ff0000", "#0000ff", "#00ff00", "#ff00ff", "#00ffff"]},
"legend": {"orient": "none", "legendX": 431, "legendY": 11, "title": null, "strokeColor": "black", "fillColor": "white", "padding": 6, "symbolType": "M-1.27,0L1.27,0", "symbolSize": 900, "symbolStrokeWidth": 1.5, "symbolOffset": 0, "labelOffset": 7, "rowPadding": 8, "labelFont": "Liberation Sans", "labelFontWeight": "bold", "labelFontSize": 16, "labelColor": "black", "labelLimit": 400,
"labelExpr": "{'a': 'OCO sym.str.(1360 cm⁻¹)', 'b': 'OCO asym.str.(1560 cm⁻¹)', 'c': 'Pt-CO (2050 cm⁻¹)', 'd': 'MeOH (2950 cm⁻¹)', 'e': 'CO₂ (2360 cm⁻¹)', 'f': 'CO (2170 cm⁻¹)'}[datum.label]"}},
"detail": {"field": "g"}
}
},
{
"data": {"name": "bounds"},
"mark": {"type": "rule", "strokeDash": [8, 5], "strokeWidth": 1.5, "color": "#333333"},
"encoding": {
"x": {"field": "x", "type": "quantitative",
"axis": {"orient": "bottom", "values": [1.6, 2.4, 2.8, 3.2, 3.6, 4.4, 4.8, 5.2, 5.6, 6.4, 6.8, 7.2, 7.6, 8.4, 8.8, 9.2, 9.6, 10.4], "labels": false, "domain": false, "title": null, "tickSize": 4, "tickWidth": 1.6, "tickColor": "black", "grid": false}},
"y": {"datum": 0, "type": "quantitative",
"axis": {"orient": "left", "values": [25, 75, 125, 175, 225], "labels": false, "domain": false, "title": null, "tickSize": 4, "tickWidth": 1.6, "tickColor": "black", "grid": false}},
"y2": {"datum": 243}
}
},
{
"data": {"name": "labels"},
"mark": {"type": "text", "font": "Liberation Sans", "fontWeight": "bold", "fontSize": 18, "baseline": "alphabetic", "align": "center", "color": "black"},
"encoding": {
"x": {"field": "x", "type": "quantitative", "axis": null},
"y": {"datum": 230.3, "type": "quantitative", "axis": null},
"text": {"field": "t"}
}
}
],
"resolve": {"axis": {"x": "independent", "y": "independent"}}
}
